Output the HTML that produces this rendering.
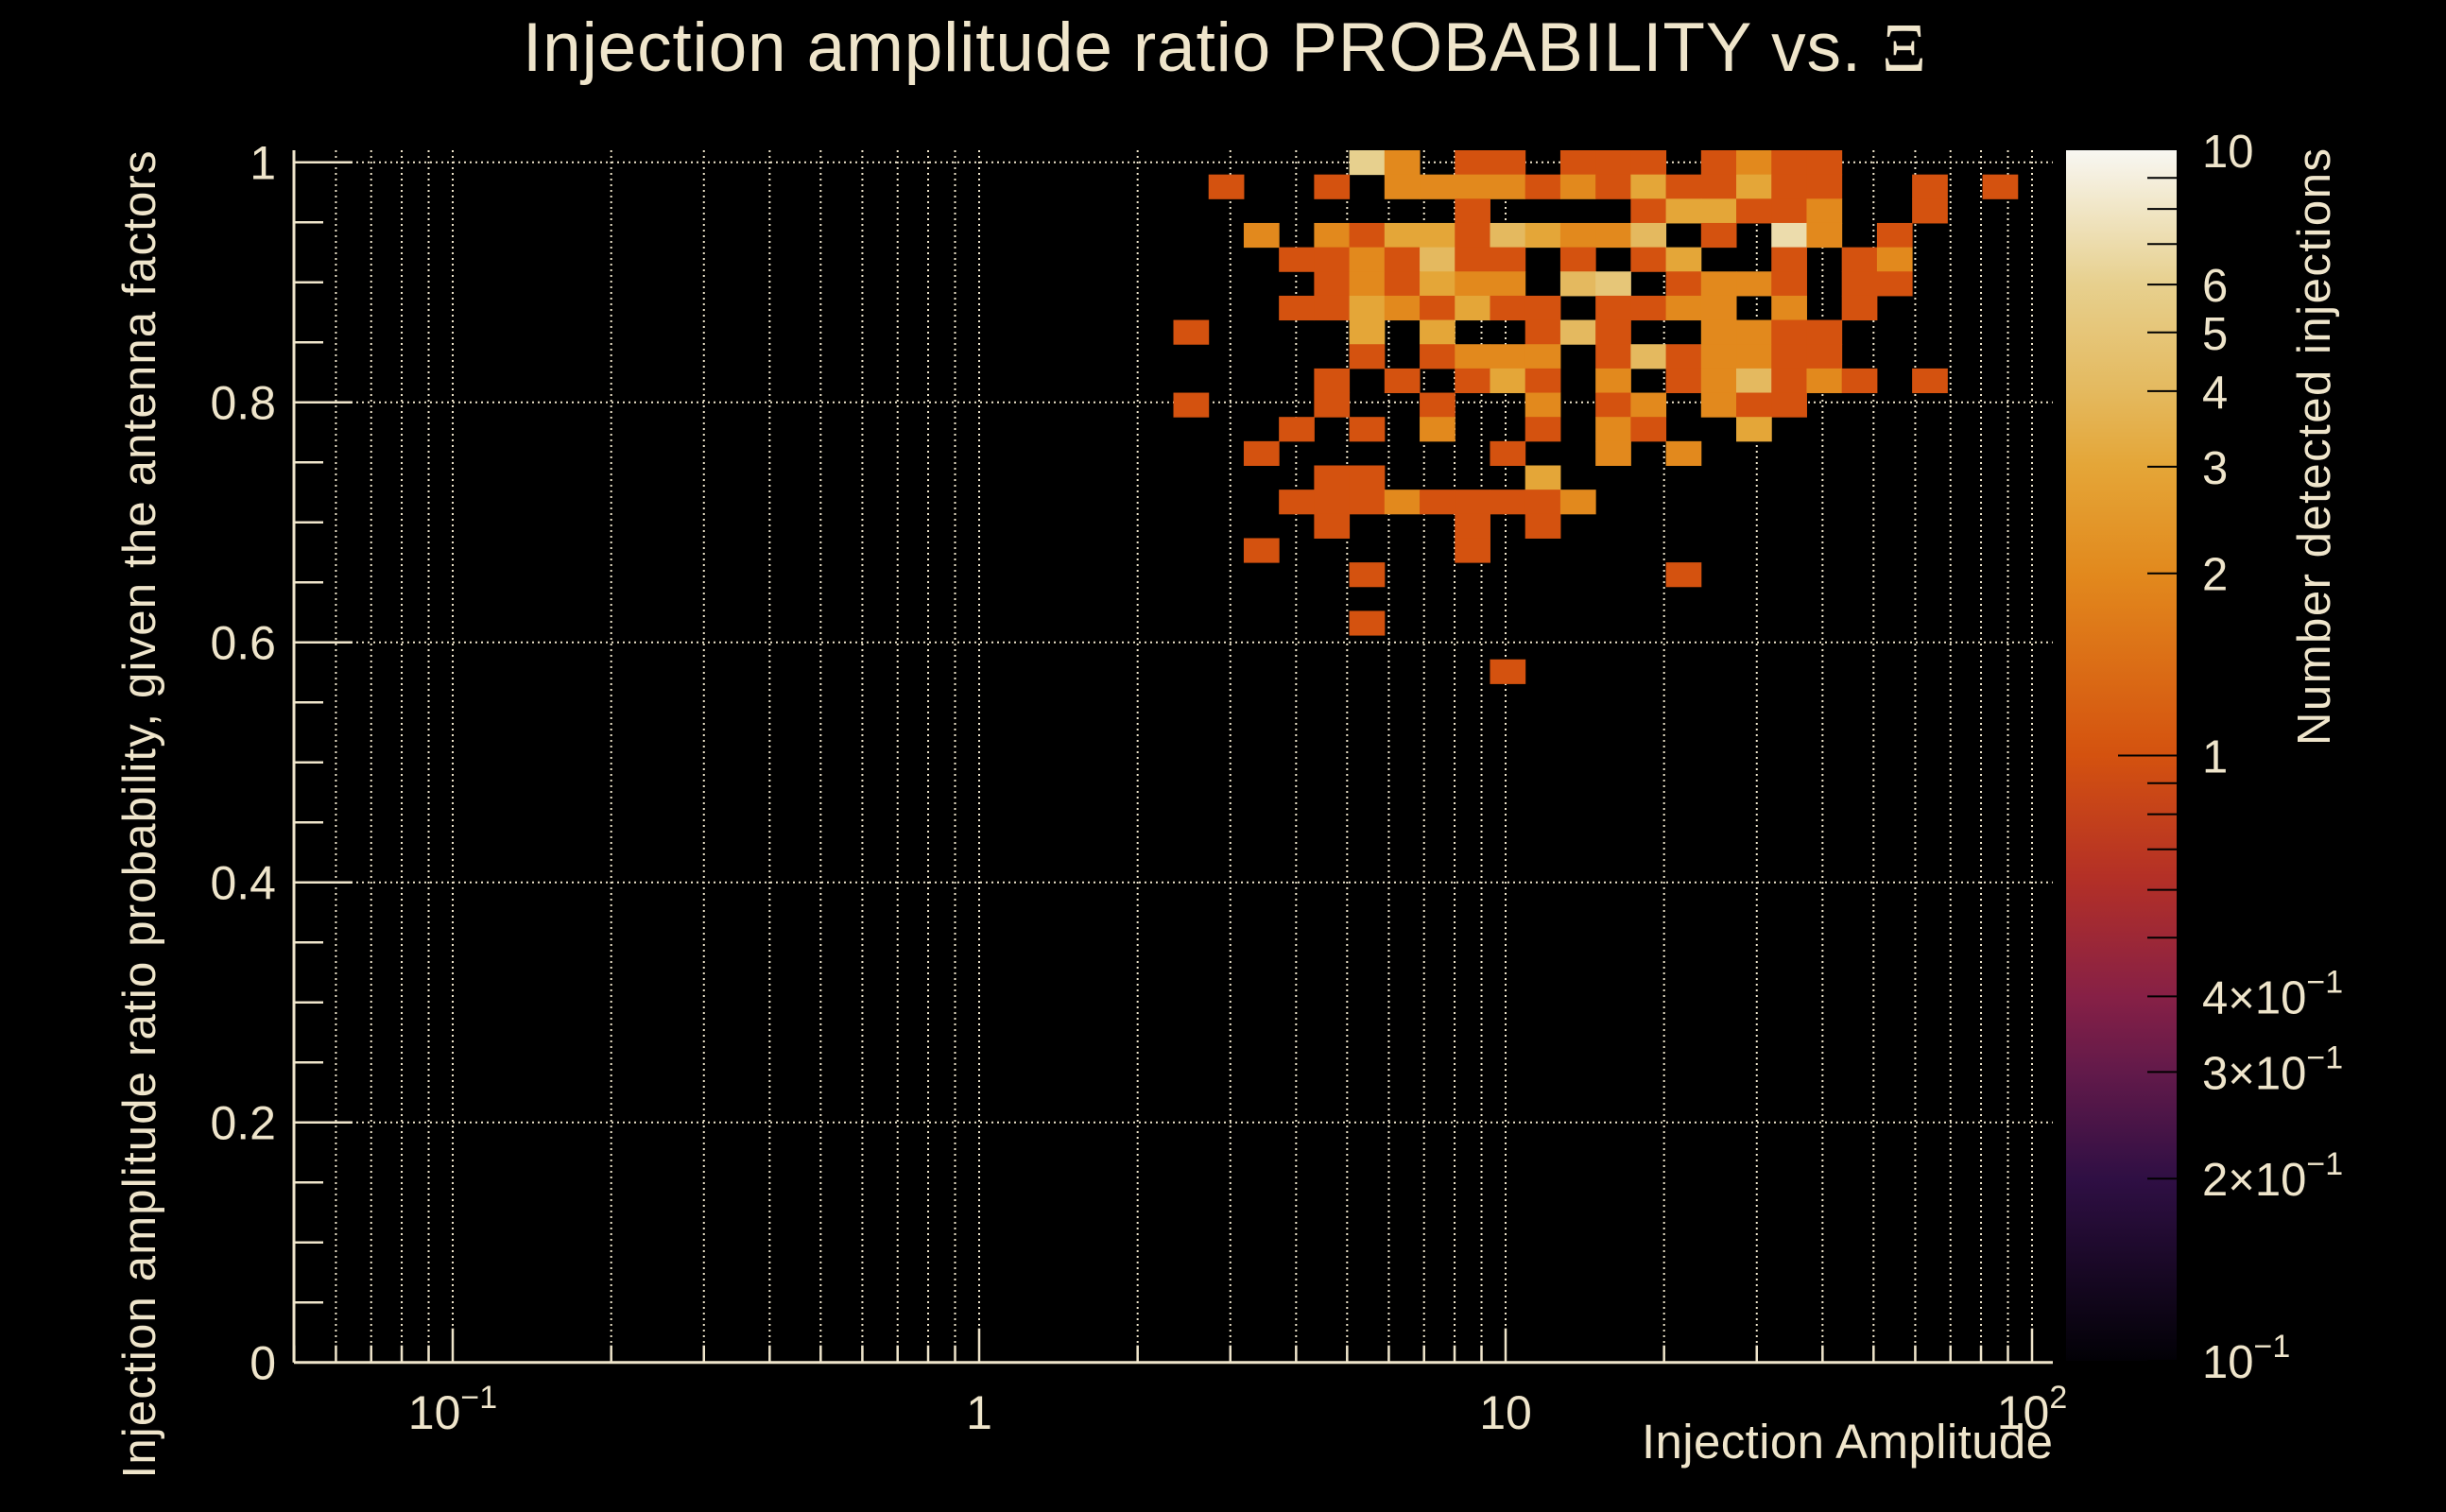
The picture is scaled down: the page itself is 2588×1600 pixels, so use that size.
<!DOCTYPE html>
<html><head><meta charset="utf-8"><title>Injection amplitude ratio probability</title>
<style>html,body{margin:0;padding:0;background:#000;}svg{display:block;}text{font-family:"Liberation Sans",sans-serif;fill:#efe5cb;}</style>
</head><body>
<svg id="chart" width="2588" height="1600" viewBox="0 0 2588 1600" xmlns="http://www.w3.org/2000/svg">
<defs>
<linearGradient id="cbgrad" x1="0" y1="1" x2="0" y2="0">
<stop offset="0" stop-color="#020106"/>
<stop offset="0.15" stop-color="#2f0f44"/>
<stop offset="0.24" stop-color="#631a4a"/>
<stop offset="0.30" stop-color="#862046"/>
<stop offset="0.40" stop-color="#b43026"/>
<stop offset="0.50" stop-color="#d4520f"/>
<stop offset="0.65" stop-color="#e2891d"/>
<stop offset="0.74" stop-color="#e4a638"/>
<stop offset="0.80" stop-color="#e4b95e"/>
<stop offset="0.89" stop-color="#e7d08e"/>
<stop offset="1" stop-color="#f8f7f2"/>
</linearGradient>
</defs>
<rect width="2588" height="1600" fill="#000"/>
<g id="grid"></g>
<g id="cells"></g>
<g id="axes"></g>
<text x="553" y="75" font-size="73" textLength="1485">Injection amplitude ratio PROBABILITY vs.  <tspan font-family="Liberation Serif, serif">Ξ</tspan></text>
<text x="2172" y="1543" font-size="51" text-anchor="end" textLength="435">Injection Amplitude</text>
<text transform="translate(164,862) rotate(-90)" font-size="49" text-anchor="middle" textLength="1405">Injection amplitude ratio probability, given the antenna factors</text>
<rect x="2186" y="159" width="117" height="1281" fill="url(#cbgrad)"/>
<g id="cbaxis"></g>
<text transform="translate(2465,157) rotate(-90)" font-size="49" text-anchor="end" textLength="632">Number detected injections</text>
</svg>
<script>
// ---- data (bin indices: 50 log-x bins, 50 y bins from 0 to 1.01) ----
const xBins = [30,31,33,34,36,37,38,40,41,42,43,
 26,29,31,32,33,34,35,36,37,38,39,40,41,42,43,46,48,
 33,38,39,40,41,42,43,46,
 27,29,30,31,32,33,34,35,36,37,38,40,42,43,45,
 28,29,30,31,32,33,34,36,38,39,42,44,45,
 29,30,31,32,33,34,36,37,39,40,41,42,44,45,
 28,29,30,31,32,33,34,35,37,38,39,40,42,44,
 25,30,32,35,36,37,40,41,42,43,
 30,32,33,34,35,37,38,39,40,41,42,43,
 29,31,33,34,35,37,39,40,41,42,43,44,46,
 25,29,32,35,37,38,40,41,42,
 28,30,32,35,37,38,41,
 27,34,37,39,
 29,30,35,
 28,29,30,31,32,33,34,35,36,
 29,33,35,
 27,33,
 30,39,
 30,
 34];
const yBins = [49,49,49,49,49,49,49,49,49,49,49,
 48,48,48,48,48,48,48,48,48,48,48,48,48,48,48,48,48,
 47,47,47,47,47,47,47,47,
 46,46,46,46,46,46,46,46,46,46,46,46,46,46,46,
 45,45,45,45,45,45,45,45,45,45,45,45,45,
 44,44,44,44,44,44,44,44,44,44,44,44,44,44,
 43,43,43,43,43,43,43,43,43,43,43,43,43,43,
 42,42,42,42,42,42,42,42,42,42,
 41,41,41,41,41,41,41,41,41,41,41,41,
 40,40,40,40,40,40,40,40,40,40,40,40,40,
 39,39,39,39,39,39,39,39,39,
 38,38,38,38,38,38,38,
 37,37,37,37,
 36,36,36,
 35,35,35,35,35,35,35,35,35,
 34,34,34,
 33,33,
 32,32,
 30,
 28];
const counts = [6,2,1,1,1,1,1,1,2,1,1,
 1,1,2,2,2,2,1,2,1,3,1,1,3,1,1,1,1,
 1,1,3,3,1,1,2,1,
 2,2,1,3,3,1,4,3,2,2,4,1,7,2,1,
 1,1,2,1,4,1,1,1,1,3,1,1,2,
 1,2,1,3,2,2,4,5,1,2,2,1,1,1,
 1,1,3,2,1,3,1,1,1,1,2,2,2,1,
 1,3,3,1,4,1,2,2,1,1,
 1,1,2,2,2,1,4,1,2,2,1,1,
 1,1,1,3,1,2,1,2,4,1,2,1,1,
 1,1,1,2,1,2,2,1,1,
 1,1,2,1,2,1,3,
 1,1,2,2,
 1,1,3,
 1,1,1,2,1,1,1,1,2,
 1,1,1,
 1,1,
 1,1,
 1,
 1];
const yTickValues = [0,0.2,0.4,0.6,0.8,1];
const yTickLabels = ["0","0.2","0.4","0.6","0.8","1"];
const xDecades = [-1,0,1,2];
const cbTickValues = [10,6,5,4,3,2,1,0.4,0.3,0.2,0.1];
const cbTickLabels = ["10","6","5","4","3","2","1","4×10","3×10","2×10","10"];

// ---- geometry / axis functions ----
const NS="http://www.w3.org/2000/svg";
const L=311, R=2172, T=159, B=1441.7;
const X1=1036, DEC=557;
const NXB=50, NYB=50, YMAX=1.01;
const logMin=(L-X1)/DEC, logMax=(R-X1)/DEC;
function xScale(v){return X1+Math.log10(v)*DEC;}
function yScale(v){return B-(v/YMAX)*(B-T);}
function xBinEdge(i){return Math.pow(10,logMin+(logMax-logMin)*i/NXB);}
function yBinEdge(j){return YMAX*j/NYB;}
const CB_T=159, CB_B=1440;
function cbScale(v){return CB_B-(Math.log10(v)+1)/2*(CB_B-CB_T);}
const stops=[[0,"#020106"],[0.15,"#2f0f44"],[0.24,"#631a4a"],[0.30,"#862046"],[0.40,"#b43026"],[0.50,"#d4520f"],[0.65,"#e2891d"],[0.74,"#e4a638"],[0.80,"#e4b95e"],[0.89,"#e7d08e"],[1,"#f8f7f2"]];
function hex(h){return [1,3,5].map(k=>parseInt(h.substr(k,2),16));}
function colorFor(c){
  let t=(Math.log10(Math.max(0.1,Math.min(10,c)))+1)/2;
  for(let k=1;k<stops.length;k++){
    if(t<=stops[k][0]){
      const a=stops[k-1],b=stops[k];const f=(t-a[0])/(b[0]-a[0]);
      const ca=hex(a[1]),cb=hex(b[1]);
      return "rgb("+ca.map((x,i)=>Math.round(x+(cb[i]-x)*f)).join(",")+")";
    }
  }
  return stops[stops.length-1][1];
}
function mk(tag,attrs,parent){const e=document.createElementNS(NS,tag);for(const k in attrs)e.setAttribute(k,attrs[k]);parent.appendChild(e);return e;}
const grid=document.getElementById('grid');
const cells=document.getElementById('cells');
const axes=document.getElementById('axes');
const cbaxis=document.getElementById('cbaxis');
const CREAM="#efe5cb";

// grid lines
for(let d=-2; d<=2; d++){
  for(let m=1;m<=9;m++){
    const v=m*Math.pow(10,d);const x=xScale(v);
    if(x<=L+1||x>=R)continue;
    const g=mk('line',{x1:x,x2:x,y1:T,y2:B,stroke:CREAM,'stroke-width':2,'stroke-dasharray':'2 4'},grid);
    
    
  }
}
yTickValues.forEach(v=>{
  const y=yScale(v);
  const g=mk('line',{x1:L,x2:R,y1:y,y2:y,stroke:CREAM,'stroke-width':2,'stroke-dasharray':'2 4'},grid);
  
  
});

// cells
for(let k=0;k<counts.length;k++){
  const x0=xScale(xBinEdge(xBins[k])), x1=xScale(xBinEdge(xBins[k]+1));
  const y0=yScale(yBinEdge(yBins[k]+1)), y1=yScale(yBinEdge(yBins[k]));
  const r=mk('rect',{x:x0,y:y0,width:x1-x0+0.5,height:y1-y0+0.5,fill:colorFor(counts[k])},cells);
  
  
}

// axes lines
const ax1=mk('line',{x1:L,x2:L,y1:T,y2:B,stroke:CREAM,'stroke-width':3},axes);


const ax2=mk('line',{x1:L,x2:R,y1:B,y2:B,stroke:CREAM,'stroke-width':3},axes);



// y ticks
for(let k=0;k<=20;k++){
  const v=k*0.05;const y=yScale(v);const major=(k%4===0);
  const t=mk('line',{x1:L,x2:L+(major?62:31),y1:y,y2:y,stroke:CREAM,'stroke-width':2.5},axes);
  
  
}
yTickValues.forEach((v,i)=>{
  const t=mk('text',{x:292,y:yScale(v)+18,'font-size':50,'text-anchor':'end'},axes);
  t.textContent=yTickLabels[i];
  
  
});
// x ticks
for(let d=-2; d<=2; d++){
  for(let m=1;m<=9;m++){
    const x=xScale(m*Math.pow(10,d));
    if(x<L||x>R)continue;
    const t=mk('line',{x1:x,x2:x,y1:B,y2:B-(m===1?36:18),stroke:CREAM,'stroke-width':2.5},axes);
    
    
  }
}
xDecades.forEach(d=>{
  const x=xScale(Math.pow(10,d));
  const t=mk('text',{x:x,y:1512,'font-size':50,'text-anchor':'middle'},axes);
  
  
  if(d===0){t.textContent="1";}
  else if(d===1){t.textContent="10";}
  else{
    t.appendChild(document.createTextNode("10"));
    const s=mk('tspan',{dy:-22,'font-size':34},t);s.textContent=(d<0?"−":"")+Math.abs(d);
  }
});

// colorbar ticks & labels
for(let e=-1;e<=0;e++){
  for(let m=1;m<=9;m++){
    const v=m*Math.pow(10,e);const y=cbScale(v);const major=(m===1&&e===0);
    const t=mk('line',{x1:2303-(major?62:31),x2:2303,y1:y,y2:y,stroke:'#000','stroke-width':2},cbaxis);
    
    
  }
}
cbTickValues.forEach((v,i)=>{
  const t=mk('text',{x:2330,y:cbScale(v)+18,'font-size':49},cbaxis);
  
  
  t.appendChild(document.createTextNode(cbTickLabels[i]));
  if(v<1){const s=mk('tspan',{dy:-22,'font-size':34},t);s.textContent="−1";}
});
</script>
</body></html>
